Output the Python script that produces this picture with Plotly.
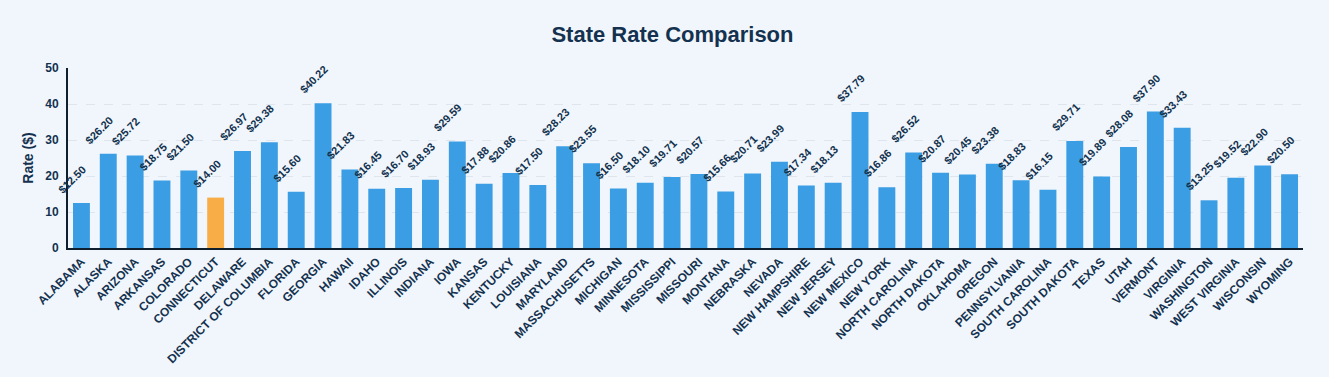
import plotly.graph_objects as go

states = ["ALABAMA", "ALASKA", "ARIZONA", "ARKANSAS", "COLORADO", "CONNECTICUT", "DELAWARE",
          "DISTRICT OF COLUMBIA", "FLORIDA", "GEORGIA", "HAWAII", "IDAHO", "ILLINOIS", "INDIANA",
          "IOWA", "KANSAS", "KENTUCKY", "LOUISIANA", "MARYLAND", "MASSACHUSETTS", "MICHIGAN",
          "MINNESOTA", "MISSISSIPPI", "MISSOURI", "MONTANA", "NEBRASKA", "NEVADA", "NEW HAMPSHIRE",
          "NEW JERSEY", "NEW MEXICO", "NEW YORK", "NORTH CAROLINA", "NORTH DAKOTA", "OKLAHOMA",
          "OREGON", "PENNSYLVANIA", "SOUTH CAROLINA", "SOUTH DAKOTA", "TEXAS", "UTAH", "VERMONT",
          "VIRGINIA", "WASHINGTON", "WEST VIRGINIA", "WISCONSIN", "WYOMING"]
rates = [12.50, 26.20, 25.72, 18.75, 21.50, 14.00, 26.97,
         29.38, 15.60, 40.22, 21.83, 16.45, 16.70, 18.93,
         29.59, 17.88, 20.86, 17.50, 28.23, 23.55, 16.50,
         18.10, 19.71, 20.57, 15.66, 20.71, 23.99, 17.34,
         18.13, 37.79, 16.86, 26.52, 20.87, 20.45,
         23.38, 18.83, 16.15, 29.71, 19.89, 28.08, 37.90,
         33.43, 13.25, 19.52, 22.90, 20.50]
highlight = "CONNECTICUT"

colors = ["#f8ad46" if s == highlight else "#3b9de3" for s in states]
labels = [f"${v:.2f}" for v in rates]

FONT = "Liberation Sans, Arial"
NAVY = "#14324f"

fig = go.Figure(go.Bar(
    x=states, y=rates, marker=dict(color=colors, line=dict(width=0)),
    cliponaxis=False, width=0.63, hoverinfo="x+y",
))

for s, v, t in zip(states, rates, labels):
    fig.add_annotation(
        x=s, y=v, text=t, showarrow=False, textangle=-45,
        xanchor="center", yanchor="middle", xshift=-9, yshift=24,
        font=dict(family=FONT, size=11, color="#12324f", weight="bold"),
    )

fig.update_layout(
    width=1329, height=377,
    margin=dict(l=68, r=26, t=68, b=129),
    paper_bgcolor="#f1f6fc", plot_bgcolor="#f1f6fc",
    title=dict(text="<b>State Rate Comparison</b>", x=0.506, xanchor="center", y=0.93, yanchor="top",
               font=dict(family=FONT, size=22, color=NAVY)),
    font=dict(family=FONT, color=NAVY),
    showlegend=False,
)
fig.update_xaxes(
    range=[-0.5, len(states) - 0.5], autorange=False,
    tickangle=-45, tickfont=dict(family=FONT, size=12, color=NAVY, weight="bold"),
    showline=True, linecolor="#0f1f2e", linewidth=2, showgrid=False, ticks="", automargin=False,
)
fig.update_yaxes(
    range=[0, 50], dtick=10, automargin=False, ticklabelstandoff=5,
    title=dict(text="<b>Rate ($)</b>", font=dict(family=FONT, size=14, color=NAVY), standoff=8),
    tickfont=dict(family=FONT, size=12, color=NAVY, weight="bold"),
    showline=True, linecolor="#0f1f2e", linewidth=2,
    showgrid=True, gridcolor="#dfe5ec", griddash="dash", gridwidth=1, zeroline=False,
)

fig.write_html("out.html", config={"displayModeBar": False},
               post_script="document.body.style.margin='0';document.body.style.background='#f1f6fc';")
